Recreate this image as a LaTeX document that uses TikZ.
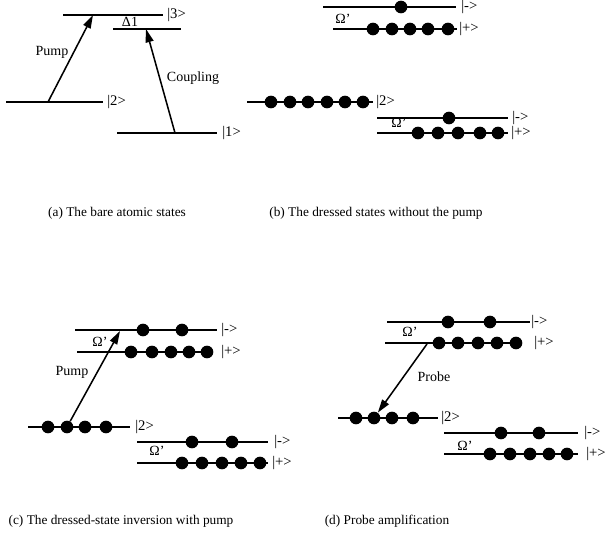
\documentclass[tikz,border=0pt]{standalone}
\usepackage{fontspec}
\setmainfont{Liberation Serif}
\usetikzlibrary{arrows.meta}
\begin{document}
\begin{tikzpicture}[x=0.75pt,y=-0.75pt,
  level/.style={line width=1.15pt},
  pop/.style={circle,fill=black,inner sep=0pt,minimum size=9.5pt},
  ket/.style={anchor=west,inner sep=0pt,font=\fontsize{11}{13}\selectfont},
  tag/.style={inner sep=0pt,font=\fontsize{10.5}{12.5}\selectfont},
  captext/.style={inner sep=0pt,font=\fontsize{10}{12}\selectfont},
  trans/.style={line width=1.15pt,-{Triangle[length=10pt,width=6pt]}}]
\useasboundingbox (0,0) rectangle (608,539);

% ---------- (a) bare atomic states ----------
\draw[level] (63,15) -- (163,15);
\node[ket] (a3) at (167,15) {\textbar3\textgreater};
\draw[level] (113,29) -- (181,29);
\node[tag] (adelta) at (130,22) {Δ1};
\draw[level] (6,102) -- (103,102);
\node[ket] (a2) at (107,102) {\textbar2\textgreater};
\draw[level] (117,133) -- (217,133);
\node[ket] (a1) at (222,133) {\textbar1\textgreater};
\coordinate (apS) at (48,102);
\coordinate (apE) at (93,15);
\coordinate (acS) at (175,133);
\coordinate (acE) at (146,29);
\draw[trans] (apS) -- (apE);
\draw[trans] (acS) -- (acE);
\node[tag] (apump) at (52,52) {Pump};
\node[tag] (acoup) at (193,78) {Coupling};
\node[captext] (capa) at (117,213) {(a) The bare atomic states};

% ---------- (b) dressed states without the pump ----------
\draw[level] (323,7) -- (456,7);
\node[pop] (bm1) at (401,7) {};
\node[ket] (bm) at (461,7) {\textbar-\textgreater};
\draw[level] (333,29) -- (457,29);
\foreach \x [count=\i] in {373,392,410,428,448}
  \node[pop] (bp\i) at (\x,29) {};
\node[ket] (bp) at (459,29) {\textbar+\textgreater};
\node[tag] (bom) at (343,19) {Ω'};

\draw[level] (247,102) -- (373,102);
\foreach \x [count=\i] in {271,290,308,327,345,363}
  \node[pop] (btwo\i) at (\x,102) {};
\node[ket] (b2) at (376,102) {\textbar2\textgreater};

\draw[level] (377,118) -- (508,118);
\node[pop] (blm1) at (449,118) {};
\node[ket] (blm) at (512,118) {\textbar-\textgreater};
\draw[level] (377,133) -- (508,133);
\foreach \x [count=\i] in {418,438,458,480,498}
  \node[pop] (blp\i) at (\x,133) {};
\node[ket] (blp) at (511,133) {\textbar+\textgreater};
\node[tag] (blom) at (399,123) {Ω'};
\node[captext] (capb) at (376,213) {(b) The dressed states without the pump};

% ---------- (c) dressed-state inversion with pump ----------
\draw[level] (75,330) -- (217,330);
\foreach \x [count=\i] in {143,182}
  \node[pop] (cm\i) at (\x,330) {};
\node[ket] (cm) at (221,330) {\textbar-\textgreater};
\draw[level] (77,352) -- (213,352);
\foreach \x [count=\i] in {131,152,171,189,207}
  \node[pop] (cp\i) at (\x,352) {};
\node[ket] (cp) at (221,352) {\textbar+\textgreater};
\node[tag] (com) at (100,342) {Ω'};

\draw[level] (28,427) -- (130,427);
\foreach \x [count=\i] in {48,67,85,106}
  \node[pop] (ctwo\i) at (\x,427) {};
\node[ket] (c2) at (135,427) {\textbar2\textgreater};

\draw[level] (137,442) -- (268,442);
\foreach \x [count=\i] in {192,232}
  \node[pop] (clm\i) at (\x,442) {};
\node[ket] (clm) at (274,442) {\textbar-\textgreater};
\draw[level] (137,463) -- (268,463);
\foreach \x [count=\i] in {182,202,222,241,260}
  \node[pop] (clp\i) at (\x,463) {};
\node[ket] (clp) at (272,463) {\textbar+\textgreater};
\node[tag] (clom) at (157,451) {Ω'};

\coordinate (cpE) at (120,331);
\draw[trans] (ctwo2) -- (cpE);
\node[tag] (cpump) at (72,372) {Pump};
\node[captext] (capc) at (121,521) {(c) The dressed-state inversion with pump};

% ---------- (d) probe amplification ----------
\draw[level] (387,322) -- (530,322);
\foreach \x [count=\i] in {448,490}
  \node[pop] (dm\i) at (\x,322) {};
\node[ket] (dm) at (531,322) {\textbar-\textgreater};
\draw[level] (385,343) -- (520,343);
\foreach \x [count=\i] in {439,458,478,497,516}
  \node[pop] (dp\i) at (\x,343) {};
\node[ket] (dp) at (534,343) {\textbar+\textgreater};
\node[tag] (dom) at (410,332) {Ω'};

\draw[level] (338,418) -- (438,418);
\foreach \x [count=\i] in {356,374,392,413}
  \node[pop] (dtwo\i) at (\x,418) {};
\node[ket] (d2) at (441,418) {\textbar2\textgreater};

\draw[level] (444,433) -- (578,433);
\foreach \x [count=\i] in {501,539}
  \node[pop] (dlm\i) at (\x,433) {};
\node[ket] (dlm) at (584,433) {\textbar-\textgreater};
\draw[level] (444,454) -- (578,454);
\foreach \x [count=\i] in {490,510,530,549,567}
  \node[pop] (dlp\i) at (\x,454) {};
\node[ket] (dlp) at (586,454) {\textbar+\textgreater};
\node[tag] (dlom) at (465,446) {Ω'};

\coordinate (dpS) at (427,344);
\draw[trans] (dpS) -- (dtwo2);
\node[tag] (dprobe) at (434,377) {Probe};
\node[captext] (capd) at (387,521) {(d) Probe amplification};
\end{tikzpicture}
\end{document}
